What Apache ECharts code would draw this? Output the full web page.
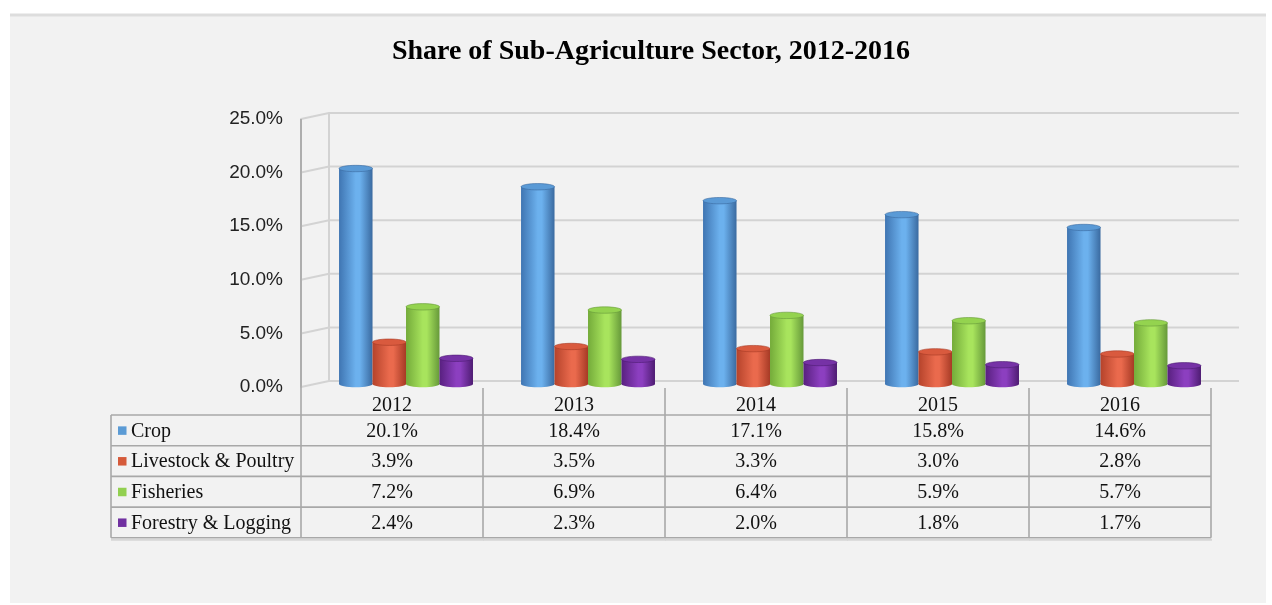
<!DOCTYPE html>
<html>
<head>
<meta charset="utf-8">
<script src="https://cdn.jsdelivr.net/npm/echarts@6/dist/echarts.min.js"></script>
<style>
html,body{margin:0;padding:0;background:#ffffff;}
#chart{width:1272px;height:605px;}
</style>
</head>
<body>
<div id="chart"></div>
<script>
// ---- data ----
const categories = ['2012', '2013', '2014', '2015', '2016'];
const seriesNames = ['Crop', 'Livestock & Poultry', 'Fisheries', 'Forestry & Logging'];
const crop = [20.1, 18.4, 17.1, 15.8, 14.6];
const livestock = [3.9, 3.5, 3.3, 3.0, 2.8];
const fisheries = [7.2, 6.9, 6.4, 5.9, 5.7];
const forestry = [2.4, 2.3, 2.0, 1.8, 1.7];
const yTicks = [0, 5, 10, 15, 20, 25];
const titleText = 'Share of Sub-Agriculture Sector, 2012-2016';

// ---- styles ----
const seriesValues = [crop, livestock, fisheries, forestry];
const palette = [
  {edgeL: '#3f75b2', mid: '#6cb1ee', edgeR: '#3a6aa0', cap: '#5a9ad6', swatch: '#5b9bd5'},
  {edgeL: '#b5432b', mid: '#ea6a4d', edgeR: '#a63a25', cap: '#d95a3e', swatch: '#d55a3a'},
  {edgeL: '#74ab3a', mid: '#a8e45d', edgeR: '#66993a', cap: '#94d34f', swatch: '#92d050'},
  {edgeL: '#58207f', mid: '#8c3fc0', edgeR: '#4e1c72', cap: '#7632a6', swatch: '#7030a0'}
];
const serif = '"Liberation Serif", "Times New Roman", serif';
const sans = '"Liberation Sans", Arial, sans-serif';
const DEPTH_X = 28, DEPTH_Y = 6;
const lineCol = '#d3d3d3';
const tableCol = '#a8a8a8';

function grad(p) {
  return {
    type: 'linear', x: 0, y: 0, x2: 1, y2: 0,
    colorStops: [
      {offset: 0, color: p.edgeL},
      {offset: 0.5, color: p.mid},
      {offset: 0.62, color: p.mid},
      {offset: 1, color: p.edgeR}
    ]
  };
}

function cylinderRenderer(sIdx) {
  const p = palette[sIdx];
  return function (params, api) {
    const cat = api.value(0), val = api.value(1);
    const base = api.coord([cat, 0]);
    const top = api.coord([cat, val]);
    const band = api.size([1, 0])[0];
    const bw = band * 0.184;
    const x = base[0] + band * 0.077 + (sIdx - 2) * bw;
    const yb = base[1] - 3, yt = top[1] - 3;
    const ry = 3.2;
    return {
      type: 'group',
      children: [
        {type: 'ellipse', shape: {cx: x + bw / 2, cy: yb, rx: bw / 2, ry: ry}, style: {fill: grad(p)}},
        {type: 'rect', shape: {x: x, y: yt, width: bw, height: yb - yt}, style: {fill: grad(p)}},
        {type: 'ellipse', shape: {cx: x + bw / 2, cy: yt, rx: bw / 2, ry: ry},
          style: {fill: p.cap, stroke: p.edgeR, lineWidth: 0.6}}
      ]
    };
  };
}

function wallRenderer(params, api) {
  const cs = params.coordSys;
  const v = api.value(1);
  const y = api.coord([0, v])[1];
  const children = [
    {type: 'polyline', shape: {points: [[cs.x, y], [cs.x + DEPTH_X, y - DEPTH_Y], [cs.x + cs.width + DEPTH_X, y - DEPTH_Y]]},
      style: {stroke: lineCol, lineWidth: 2, fill: null}}
  ];
  if (v === 0) {
    const yTop = api.coord([0, yTicks[yTicks.length - 1]])[1];
    children.push({type: 'line', shape: {x1: cs.x + DEPTH_X, y1: y - DEPTH_Y, x2: cs.x + DEPTH_X, y2: yTop - DEPTH_Y},
      style: {stroke: lineCol, lineWidth: 2}});
  }
  return {type: 'group', children: children};
}

function tableRenderer(params, api) {
  const cs = params.coordSys;
  const i = api.value(0);
  const cx = api.coord([i, 0])[0];
  const band = api.size([1, 0])[0];
  const left = cx - band / 2, right = cx + band / 2;
  const gBottom = cs.y + cs.height;
  const tTop = gBottom + 28;
  const rowH = 30.7;
  const tBottom = tTop + rowH * seriesNames.length;
  const children = [];
  const ln = (x1, y1, x2, y2) => ({type: 'line', shape: {x1, y1, x2, y2}, style: {stroke: tableCol, lineWidth: 1.6}});
  children.push(ln(right, gBottom + 1, right, tBottom));
  for (let r = 0; r <= seriesNames.length; r++) {
    children.push(ln(left, tTop + r * rowH, right, tTop + r * rowH));
  }
  seriesNames.forEach((name, r) => {
    children.push({type: 'text', style: {
      text: seriesValues[r][i].toFixed(1) + '%', x: cx, y: tTop + r * rowH + rowH / 2 + 1,
      textAlign: 'center', textVerticalAlign: 'middle', fill: '#111', font: '20px ' + serif}});
  });
  if (i === 0) {
    const tLeft = cs.x - 190;
    children.push(ln(left, cs.y, left, tBottom));
    children.push(ln(tLeft, tTop, tLeft, tBottom));
    for (let r = 0; r <= seriesNames.length; r++) {
      children.push(ln(tLeft, tTop + r * rowH, left, tTop + r * rowH));
    }
    seriesNames.forEach((name, r) => {
      const ym = tTop + r * rowH + rowH / 2;
      children.push({type: 'rect', shape: {x: tLeft + 7, y: ym - 4, width: 8.5, height: 8.5}, style: {fill: palette[r].swatch}});
      children.push({type: 'text', style: {
        text: name, x: tLeft + 20, y: ym + 1, textAlign: 'left', textVerticalAlign: 'middle',
        fill: '#111', font: '20px ' + serif}});
    });
  }
  const tl = i === 0 ? cs.x - 190 : left;
  children.push({type: 'line', shape: {x1: tl, y1: tBottom + 2, x2: right + 1, y2: tBottom + 2}, style: {stroke: '#d6d6d6', lineWidth: 2}});
  return {type: 'group', children: children};
}

const chart = echarts.init(document.getElementById('chart'));
const series = [
  {type: 'custom', name: 'wall', renderItem: wallRenderer, data: yTicks.map(v => [0, v]), z: 1, silent: true}
];
seriesNames.forEach((name, s) => {
  series.push({
    type: 'custom', name: name, renderItem: cylinderRenderer(s), z: 3,
    data: seriesValues[s].map((v, i) => [i, v])
  });
});
series.push({type: 'custom', name: 'table', renderItem: tableRenderer, data: categories.map((c, i) => [i, 0]), z: 2, silent: true});

chart.setOption({
  backgroundColor: '#ffffff',
  animation: false,
  graphic: [
    {type: 'rect', shape: {x: 10, y: 15, width: 1256, height: 588}, style: {fill: '#f2f2f2'}, z: -10},
    {type: 'line', shape: {x1: 10, y1: 15, x2: 1266, y2: 15}, style: {stroke: '#dddddd', lineWidth: 3}, z: -9}
  ],
  title: {
    text: titleText, left: 646, top: 33, textAlign: 'center',
    textStyle: {fontFamily: serif, fontWeight: 'bold', fontSize: 28, color: '#000'}
  },
  grid: {left: 301, right: 61, top: 119, bottom: 218},
  xAxis: {
    type: 'category', data: categories,
    axisLine: {show: false}, axisTick: {show: false},
    axisLabel: {margin: 9, fontFamily: serif, fontSize: 20, color: '#111'}
  },
  yAxis: {
    type: 'value', min: 0, max: 25, interval: 5,
    axisLine: {show: true, lineStyle: {color: '#bdbdbd', width: 1.6}},
    axisTick: {show: false},
    splitLine: {show: false},
    axisLabel: {margin: 18, fontFamily: sans, fontSize: 19, color: '#222', formatter: v => v.toFixed(1) + '%'}
  },
  series: series
});
</script>
</body>
</html>
